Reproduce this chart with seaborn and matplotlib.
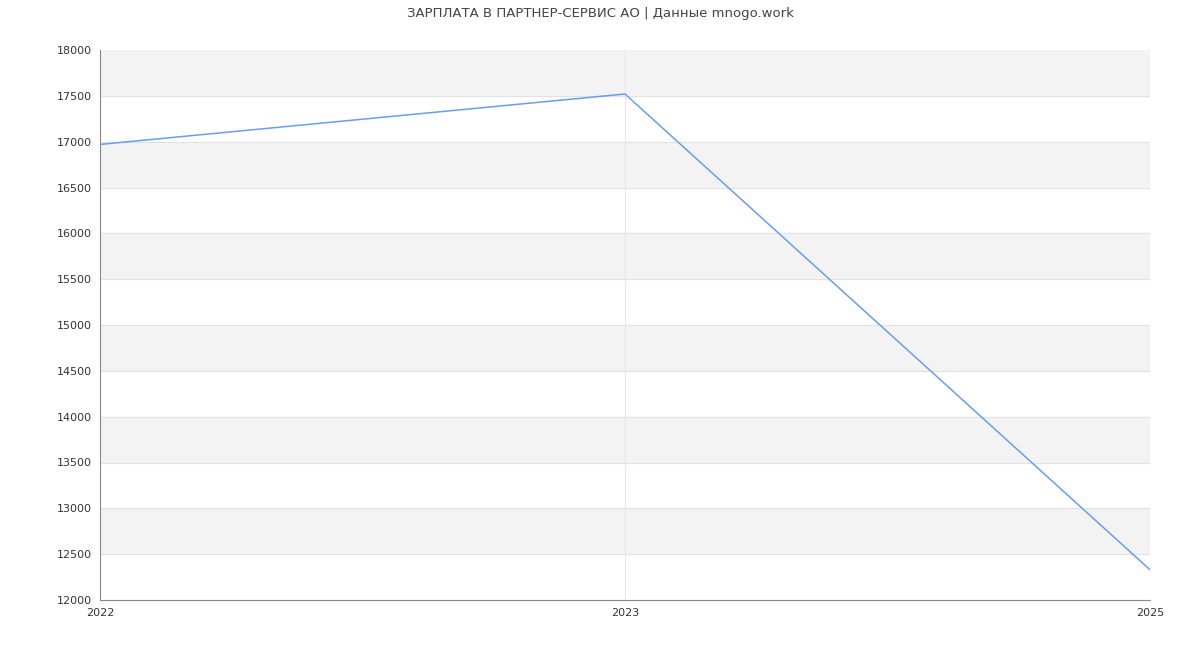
import matplotlib
matplotlib.use('Agg')
import matplotlib.pyplot as plt
import seaborn as sns
import pandas as pd

years = ['2022', '2023', '2025']
salary = [16970, 17520, 12330]

sns.set_style('white')
plt.rcParams['font.family'] = ['DejaVu Sans']

df = pd.DataFrame({'pos': range(len(years)), 'salary': salary})

fig = plt.figure(figsize=(12, 6.5), dpi=100)
ax = fig.add_axes([100 / 1200, 50 / 650, 1050 / 1200, 550 / 650])

# alternating bands
for lo in range(12500, 18000, 1000):
    ax.axhspan(lo, lo + 500, color='#f3f3f3', zorder=0)
for y in range(12500, 18000, 500):
    ax.axhline(y, color='#e2e2e2', lw=0.8, zorder=1)
for x in range(len(years)):
    ax.axvline(x, color='#e6e6e6', lw=0.8, zorder=1)

sns.lineplot(data=df, x='pos', y='salary', ax=ax, color='#6b9cf0', lw=1.1, zorder=3)

ax.set_xlim(0, len(years) - 1)
ax.set_ylim(12000, 18000)
ax.set_xticks(range(len(years)))
ax.set_xticklabels(years)
ax.set_yticks(range(12000, 18001, 500))
ax.tick_params(labelsize=8, colors='#333333', length=0, pad=6)
ax.set_xlabel('')
ax.set_ylabel('')
for side in ['top', 'right']:
    ax.spines[side].set_visible(False)
for side in ['left', 'bottom']:
    ax.spines[side].set_color('#888888')
    ax.spines[side].set_linewidth(0.8)

fig.suptitle('ЗАРПЛАТА В ПАРТНЕР-СЕРВИС АО | Данные mnogo.work', y=0.99, fontsize=9.5, color='#444444')
fig.savefig('out.png', dpi=100)
